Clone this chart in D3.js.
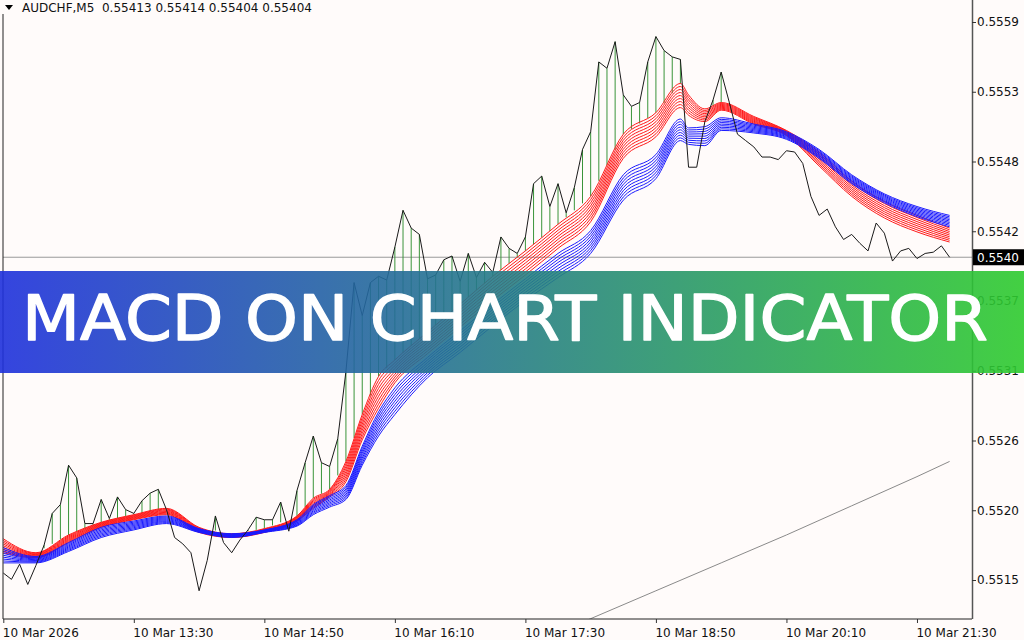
<!DOCTYPE html>
<html><head><meta charset="utf-8">
<script src="https://cdn.jsdelivr.net/npm/d3@7"></script>
<style>
html,body{margin:0;padding:0;background:#fffbfa;}
svg{display:block;}
text{font-family:"DejaVu Sans",sans-serif;}
</style></head><body>
<svg id="chart" width="1024" height="640"></svg>
<script>
// ---------- DATA ----------
const symbol = "AUDCHF,M5";
const ohlc = [0.55413, 0.55414, 0.55404, 0.55404];
const currentPrice = 0.55404;
const bannerText = "MACD ON CHART INDICATOR";

// close of each M5 bar (bar 0 = 10 Mar 12:10)
const closes = [
0.55155,0.55150,0.55162,0.55146,0.55161,0.55177,0.55202,0.55209,0.55240,0.55230,
0.55194,0.55194,0.55213,0.55198,0.55215,0.55205,0.55202,0.55212,0.55218,0.55221,
0.55205,0.55183,0.55178,0.55171,0.55141,0.55165,0.55200,0.55179,0.55171,0.55181,
0.55189,0.55199,0.55197,0.55197,0.55211,0.55188,0.55220,0.55242,0.55263,0.55242,
0.55239,0.55261,0.55314,0.55384,0.55358,0.55384,0.55389,0.55386,0.55412,0.55441,
0.55427,0.55422,0.55387,0.55390,0.55402,0.55405,0.55385,0.55407,0.55388,0.55400,
0.55392,0.55420,0.55411,0.55407,0.55420,0.55462,0.55468,0.55444,0.55462,0.55439,
0.55459,0.55489,0.55503,0.55558,0.55553,0.55574,0.55532,0.55523,0.55526,0.55558,
0.55578,0.55567,0.55562,0.55560,0.55475,0.55475,0.55511,0.55528,0.55550,0.55526,
0.55501,0.55496,0.55491,0.55483,0.55483,0.55481,0.55488,0.55487,0.55478,0.55452,
0.55437,0.55442,0.55428,0.55418,0.55422,0.55415,0.55409,0.55431,0.55423,0.55401,
0.55409,0.55411,0.55403,0.55407,0.55408,0.55413,0.55404
];

// ribbon edges read at these bars
const ribbonBars = [0,4,8,12,16,20,24,28,32,36,38,40,42,44,46,48,52,56,60,64,68,72,76,80,83,84,86,88,92,96,100,104,108,112,116];
const redFast  = [0.55182,0.55171,0.55185,0.55195,0.55201,0.55206,0.55191,0.55186,0.55190,0.55200,0.55214,0.55221,0.55243,0.55280,0.55310,0.55323,0.55345,0.55367,0.55389,0.55409,0.55430,0.55452,0.55501,0.55518,0.55541,0.55532,0.55521,0.55526,0.55515,0.55504,0.55487,0.55464,0.55448,0.55437,0.55427];
const redSlow  = [0.55171,0.55167,0.55179,0.55191,0.55197,0.55201,0.55187,0.55183,0.55187,0.55196,0.55206,0.55215,0.55227,0.55260,0.55285,0.55305,0.55328,0.55349,0.55370,0.55390,0.55411,0.55432,0.55482,0.55499,0.55522,0.55516,0.55511,0.55520,0.55509,0.55500,0.55476,0.55452,0.55435,0.55424,0.55416];
const blueFast = [0.55175,0.55168,0.55179,0.55191,0.55196,0.55200,0.55190,0.55186,0.55189,0.55197,0.55209,0.55216,0.55224,0.55255,0.55282,0.55301,0.55325,0.55346,0.55367,0.55387,0.55407,0.55425,0.55469,0.55485,0.55513,0.55506,0.55507,0.55514,0.55509,0.55503,0.55489,0.55469,0.55454,0.55444,0.55437];
const blueSlow = [0.55163,0.55163,0.55172,0.55183,0.55189,0.55194,0.55187,0.55183,0.55187,0.55192,0.55201,0.55207,0.55213,0.55240,0.55263,0.55280,0.55309,0.55329,0.55350,0.55370,0.55388,0.55407,0.55449,0.55466,0.55496,0.55493,0.55492,0.55504,0.55502,0.55497,0.55482,0.55462,0.55447,0.55436,0.55428];
const ribbonCount = 9;

// long moving average (gray)
const maBars = [64,72,80,88,96,104,112,116];
const maValues = [0.55096,0.55119,0.55141,0.55163,0.55185,0.55208,0.55231,0.55243];

// axes
const timeTickBars = [0,16,32,48,64,80,96,112];
const timeTickLabels = ["10 Mar 2026","10 Mar 13:30","10 Mar 14:50","10 Mar 16:10","10 Mar 17:30","10 Mar 18:50","10 Mar 20:10","10 Mar 21:30"];
const priceTicks = [0.555895,0.555345,0.554795,0.554245,0.553695,0.553145,0.552595,0.552045,0.551495];

// ---------- CHART ----------
const svg = d3.select("#chart");
const plotL = 3, plotR = 972, plotB = 619;
const x = d3.scaleLinear().domain([0, 116]).range([3.3, 949.6]);
const y = d3.scaleLinear().domain([0.551495, 0.555895]).range([580, 22]);

svg.append("rect").attr("width",1024).attr("height",640).attr("fill","#fffbfa");

const defs = svg.append("defs");
defs.append("clipPath").attr("id","plotClip").append("rect")
  .attr("x",plotL).attr("y",0).attr("width",plotR-plotL).attr("height",plotB);
const grad = defs.append("linearGradient").attr("id","bannerGrad")
  .attr("x1","0%").attr("x2","100%").attr("y1","0%").attr("y2","0%");
grad.append("stop").attr("offset","0%").attr("stop-color","#1e30dc");
grad.append("stop").attr("offset","100%").attr("stop-color","#2ecb2e");

const plot = svg.append("g").attr("clip-path","url(#plotClip)");

// current price line
plot.append("line").attr("x1",plotL).attr("x2",plotR)
  .attr("y1",y(currentPrice)).attr("y2",y(currentPrice))
  .attr("stroke","#9a9a9a").attr("stroke-width",1);

// long MA
plot.append("path").datum(maBars.map((b,i)=>[b,maValues[i]]))
  .attr("fill","none").attr("stroke","#8a8a8a").attr("stroke-width",1)
  .attr("d", d3.line().x(d=>x(d[0])).y(d=>y(d[1])));

// fast line value at a bar (from the read ribbon edge)
function fastAt(bar){
  for(let j=0;j<ribbonBars.length-1;j++){
    if(bar>=ribbonBars[j] && bar<=ribbonBars[j+1]){
      const t=(bar-ribbonBars[j])/(ribbonBars[j+1]-ribbonBars[j]);
      return redFast[j]+(redFast[j+1]-redFast[j])*t;
    }
  }
  return redFast[redFast.length-1];
}
// green histogram lines
plot.append("g").selectAll("line")
  .data(closes.map((c,i)=>({i,c,f:fastAt(i)})).filter(d=>d.c>d.f))
  .join("line")
  .attr("x1",d=>x(d.i)).attr("x2",d=>x(d.i))
  .attr("y1",d=>y(d.c)).attr("y2",d=>y(d.f))
  .attr("stroke","#3a943a").attr("stroke-width",1);

// ribbons
const ribbonLine = d3.line().x(d=>x(d[0])).y(d=>y(d[1])).curve(d3.curveMonotoneX);
function drawRibbon(fast, slow, color){
  const g = plot.append("g");
  for(let k=0;k<ribbonCount;k++){
    const pts = ribbonBars.map((b,j)=>[b, fast[j]+(slow[j]-fast[j])*k/(ribbonCount-1)]);
    g.append("path").datum(pts).attr("fill","none").attr("stroke",color)
      .attr("stroke-width",1).attr("d",ribbonLine);
  }
}
drawRibbon(redFast, redSlow, "#ff1a1a");
drawRibbon(blueFast, blueSlow, "#1a1aff");

// close line
plot.append("path").datum(closes)
  .attr("fill","none").attr("stroke","#1a1a1a").attr("stroke-width",1)
  .attr("d", d3.line().x((d,i)=>x(i)).y(d=>y(d)));

// frame
svg.append("line").attr("x1",plotL).attr("x2",plotL).attr("y1",14).attr("y2",plotB)
  .attr("stroke","#222");
svg.append("line").attr("x1",plotL).attr("x2",plotR).attr("y1",plotB).attr("y2",plotB)
  .attr("stroke","#222");

// right axis
const yAxis = svg.append("g").attr("transform",`translate(${plotR},0)`)
  .call(d3.axisRight(y).tickValues(priceTicks).tickFormat(d3.format(".4f")).tickSize(4).tickPadding(1));
yAxis.select(".domain").attr("d",`M0.5,0V${plotB}`).attr("stroke","#555").attr("stroke-width",1.5);
yAxis.selectAll("line").attr("stroke","#333");
yAxis.selectAll("text").attr("font-family","DejaVu Sans").attr("font-size",12).attr("fill","#111");

// bottom axis
const xAxis = svg.append("g").attr("transform",`translate(0,${plotB})`)
  .call(d3.axisBottom(x).tickValues(timeTickBars).tickFormat((d,i)=>timeTickLabels[i]).tickSize(4));
xAxis.select(".domain").remove();
xAxis.selectAll("line").attr("stroke","#333");
xAxis.selectAll("text").attr("text-anchor","start").attr("dx","-1").attr("y",9)
  .attr("font-family","DejaVu Sans").attr("font-size",12).attr("fill","#111");

// current price label
const yp = y(currentPrice);
svg.append("rect").attr("x",plotR+1).attr("y",yp-8).attr("width",1024-plotR-1).attr("height",16).attr("fill","#000");
svg.append("text").attr("x",plotR+5).attr("y",yp).attr("dy","0.36em")
  .attr("font-size",12).attr("fill","#fff").text(currentPrice.toFixed(4));

// title
svg.append("path").attr("d","M5,5L13,5L9,10Z").attr("fill","#000");
svg.append("text").attr("x",22).attr("y",12).attr("font-size",12).attr("fill","#111")
  .style("white-space","pre")
  .text(symbol + "  " + ohlc.map(v=>v.toFixed(5)).join(" "));

// banner
svg.append("rect").attr("x",0).attr("y",271).attr("width",1024).attr("height",102)
  .attr("fill","url(#bannerGrad)").attr("opacity",0.9);
svg.append("text").attr("x",22).attr("y",340)
  .attr("textLength",966).attr("lengthAdjust","spacingAndGlyphs")
  .attr("font-family","'Open Sans', Lato, sans-serif").attr("font-weight",400)
  .attr("stroke","#fff").attr("stroke-width",1.3).attr("stroke-linejoin","round")
  .attr("font-size",62).attr("fill","#fff").text(bannerText);
</script>
</body></html>
